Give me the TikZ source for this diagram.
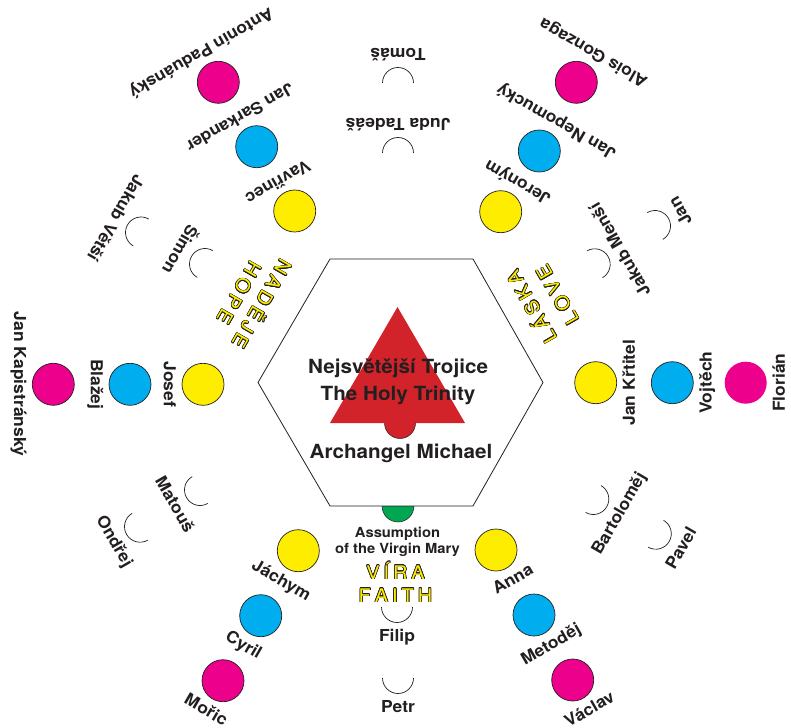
\documentclass[tikz,border=0pt]{standalone}
\usepackage{fontspec}
\setmainfont{TeX Gyre Heros}[FakeStretch=1.06]
\usepackage{contour}
\contourlength{0.6pt}
\contournumber{16}
\usetikzlibrary{calc}
\definecolor{ink}{HTML}{231F20}
\definecolor{yel}{HTML}{FFED00}
\definecolor{cya}{HTML}{00AEEF}
\definecolor{mag}{HTML}{EC008C}
\definecolor{trired}{HTML}{D2232A}
\definecolor{grn}{HTML}{00A651}
\tikzset{
  dot/.style={circle,minimum size=42pt,inner sep=0pt,draw=ink,line width=0.7pt},
  lbl/.style={anchor=north,inner sep=0pt,text=ink,font=\fontsize{16.5}{18}\selectfont\bfseries,text height=12pt,text depth=3.5pt},
  arcline/.style={draw=ink,line width=0.7pt},
  ctr/.style={anchor=base,inner sep=0pt,text=ink,font=\fontsize{19.5}{22}\selectfont\bfseries},
  asm/.style={anchor=base,inner sep=0pt,text=ink,font=\fontsize{13.9}{16}\selectfont\bfseries},
  yl/.style={inner sep=0pt,text=yel,font=\fontsize{18.8}{20}\selectfont,text height=13.5pt,text depth=0pt}
}
\newcommand\saint[6]{%
  \node[dot,#5] (#1) at (#2,-#3) {};
  \node[lbl,rotate=#4+90] (#1-l) at ($(#1)+({#4}:27)$) {#6};}
\newcommand\apostle[5]{%
  \coordinate (#1) at (#2,-#3);
  \draw[arcline] ($(#1)+({#4-90}:15.5)$) arc[start angle={#4-90},end angle={#4+90},radius=15.5];
  \node[lbl,rotate=#4+90] (#1-l) at ($(#1)+({#4}:22.5)$) {#5};}
\begin{document}
\begin{tikzpicture}[x=1pt,y=1pt]
\useasboundingbox (0,0) rectangle (791,-727);
% green semicircle
\fill[grn] (382,-506) arc[start angle=180,end angle=360,radius=16] -- cycle;
\draw[ink,line width=0.5pt] (382,-506) arc[start angle=180,end angle=360,radius=16];
% hexagon
\draw[ink,line width=0.8pt] (258,-382.5) -- (330,-259) -- (473,-259) -- (543,-382.5) -- (473,-506) -- (330,-506) -- cycle;
% trinity
\fill[trired] (330,-423) -- (397.5,-307) -- (465,-423) -- cycle;
\fill[trired] (384.5,-423) arc[start angle=180,end angle=360,radius=15.5] -- cycle;
\draw[ink,line width=0.5pt] (384.5,-423) arc[start angle=180,end angle=360,radius=15.5];
\node[ctr] (trin1) at (398,-373.3) {Nejsvětější Trojice};
\node[ctr] (trin2) at (398,-400) {The Holy Trinity};
\node[ctr] (michael) at (401,-458.3) {Archangel Michael};
\node[asm] (asm1) at (397.5,-537.3) {Assumption};
\node[asm] (asm2) at (397.5,-553.3) {of the Virgin Mary};
% virtues
\node[yl] (vira) at (395.5,-572.5) {\contour{ink}{V\kern4pt Í\kern4pt R\kern4pt A}};
\node[yl] (faith) at (395.5,-595.5) {\contour{ink}{F\kern4pt A\kern4pt I\kern4pt T\kern4pt H}};
\node[yl,rotate=240] (nadeje) at (261.7,-304) {\contour{ink}{N\kern4pt A\kern4pt D\kern4pt Ě\kern4pt J\kern4pt E}};
\node[yl,rotate=240] (hope) at (239,-293) {\contour{ink}{H\kern4pt O\kern4pt P\kern4pt E}};
\node[yl,rotate=120] (laska) at (531.7,-306.7) {\contour{ink}{L\kern4pt Á\kern4pt S\kern4pt K\kern4pt A}};
\node[yl,rotate=120] (love) at (557.5,-295) {\contour{ink}{L\kern4pt O\kern4pt V\kern4pt E}};
% saints
\saint{josef}{203}{384.3}{180}{fill=yel}{Josef}
\saint{blazej}{130}{384.3}{180}{fill=cya}{Blažej}
\saint{kapis}{53.3}{384.3}{180}{fill=mag}{Jan Kapistránský}
\saint{krtitel}{595.7}{382.7}{0}{fill=yel}{Jan Křtitel}
\saint{vojtech}{672.3}{382.7}{0}{fill=cya}{Vojtěch}
\saint{florian}{745.7}{382.7}{0}{fill=mag,draw=none}{Florián}
\saint{vavrinec}{294.7}{211}{120}{fill=yel}{Vavřinec}
\saint{sarkander}{256.7}{146.7}{120}{fill=cya}{Jan Sarkander}
\saint{antonin}{218.3}{82.3}{120}{fill=mag}{Antonín Paduánský}
\saint{jeronym}{500.7}{211.7}{60}{fill=yel}{Jeroným}
\saint{nepomucky}{539.3}{151}{60}{fill=cya}{Jan Nepomucký}
\saint{alois}{576.3}{82.3}{60}{fill=mag}{Alois Gonzaga}
\saint{jachym}{298.3}{550.7}{240}{fill=yel}{Jáchym}
\saint{cyril}{260.7}{615.7}{240}{fill=cya}{Cyril}
\saint{moric}{223}{680.7}{240}{fill=mag}{Mořic}
\saint{anna}{496}{550}{300}{fill=yel}{Anna}
\saint{metodej}{534}{615}{300}{fill=cya}{Metoděj}
\saint{vaclav}{572.7}{680}{300}{fill=mag}{Václav}
% apostles
\apostle{tomas}{398}{83}{90}{Tomáš}
\apostle{juda}{398}{153}{90}{Juda Tadeáš}
\apostle{jan}{655}{226}{30}{Jan}
\apostle{jakubm}{594.7}{264.3}{30}{Jakub Menší}
\apostle{bartolomej}{593.3}{499}{-30}{Bartoloměj}
\apostle{pavel}{655.8}{533.7}{-30}{Pavel}
\apostle{filip}{397}{607}{270}{Filip}
\apostle{petr}{398}{678}{270}{Petr}
\apostle{matous}{200}{490}{210}{Matouš}
\apostle{ondrej}{140}{526.7}{210}{Ondřej}
\apostle{simon}{205}{264}{150}{Šimon}
\apostle{jakubv}{141}{232.5}{150}{Jakub Větší}
\end{tikzpicture}
\end{document}
